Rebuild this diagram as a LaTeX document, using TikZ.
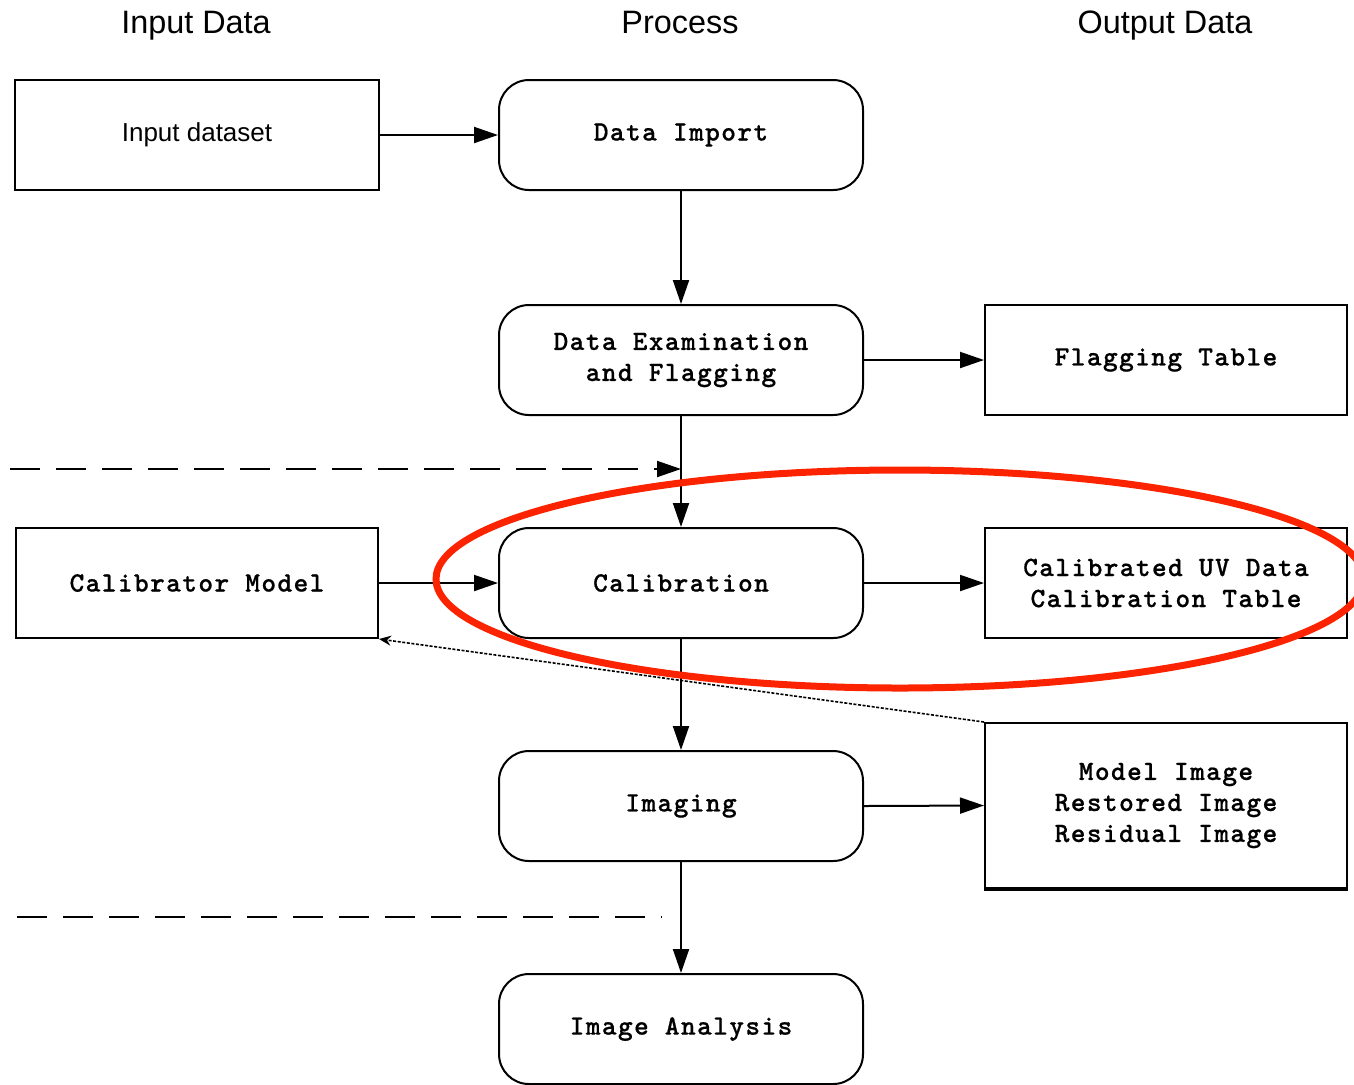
\documentclass[tikz,border=0pt]{standalone}
\usepackage{fontspec}
\setmainfont{Liberation Sans}
\newfontfamily\cour{lmmonolt10-bold.otf}[LetterSpace=5, FakeBold=0.6]
\usetikzlibrary{arrows.meta}
\definecolor{ringred}{RGB}{252,36,0}
\begin{document}
\begin{tikzpicture}[x=0.5pt,y=-0.5pt,
  proc/.style={draw, line width=1pt, rounded corners=15pt, minimum width=182pt, minimum height=55pt, inner sep=0pt, align=center, font=\cour\fontsize{14}{15.5}\selectfont},
  databox/.style={draw, line width=1pt, minimum width=181pt, minimum height=55pt, inner sep=0pt, align=center, font=\cour\fontsize{14}{15.5}\selectfont},
  inbox/.style={draw, line width=1pt, minimum width=182pt, minimum height=55pt, inner sep=0pt, align=center, font=\fontsize{13}{15}\selectfont},
  head/.style={font=\fontsize{16.2}{19}\selectfont, inner sep=0pt, anchor=base},
  arr/.style={line width=1pt, -{Triangle[length=12pt,width=8pt]}},
  dashline/.style={line width=1pt, dash pattern=on 15pt off 8pt},
  dotarr/.style={line width=0.8pt, dash pattern=on 1.5pt off 0.8pt, -{Stealth[length=6pt,width=5pt]}},
  ring/.style={draw=ringred, line width=3.5pt}
]
\useasboundingbox (0,0) rectangle (1354,1084);
\node[head] (h1) at (196,33) {Input Data};
\node[head] (h2) at (680,33) {Process};
\node[head] (h3) at (1165,33) {Output Data};

\node[inbox] (inp) at (197,135) {Input dataset};
\node[proc] (imp) at (681,135) {Data Import};
\node[proc] (exam) at (681,360) {Data Examination\\and Flagging};
\node[databox] (flag) at (1166,360) {Flagging Table};
\node[databox] (calm) at (197,583) {Calibrator Model};
\node[proc] (cal) at (681,583) {Calibration};
\node[databox] (caluv) at (1166,583) {Calibrated UV Data\\Calibration Table};
\node[databox, minimum height=82.5pt] (model) at (1166,805.5) {Model Image\\Restored Image\\Residual Image};
\node[proc] (img) at (681,806) {Imaging};
\node[proc] (ana) at (681,1029) {Image Analysis};

\draw[line width=2pt] (model.south west) -- (model.south east);

\draw[arr] (inp.east) -- (imp.west);
\draw[arr] (imp.south) -- (exam.north);
\draw[arr] (exam.east) -- (flag.west);
\draw[arr] (exam.south) -- (cal.north);
\draw[arr] (calm.east) -- (cal.west);
\draw[arr] (cal.east) -- (caluv.west);
\draw[arr] (cal.south) -- (img.north);
\draw[arr] (img.east) -- (model.west);
\draw[arr] (img.south) -- (ana.north);

\coordinate (d1a) at (10,469);
\coordinate (d1b) at (681,469);
\draw[dashline, -{Triangle[length=12pt,width=8pt]}] (d1a) -- (d1b);
\coordinate (d2a) at (17,917);
\coordinate (d2b) at (662,917);
\draw[dashline] (d2a) -- (d2b);

\draw[dotarr] (model.north west) -- (calm.south east);

\begin{scope}
\clip (0,0) rectangle (1354,1084);
\draw[ring] (900,579) ellipse [x radius=464, y radius=109];
\end{scope}
\end{tikzpicture}
\end{document}
